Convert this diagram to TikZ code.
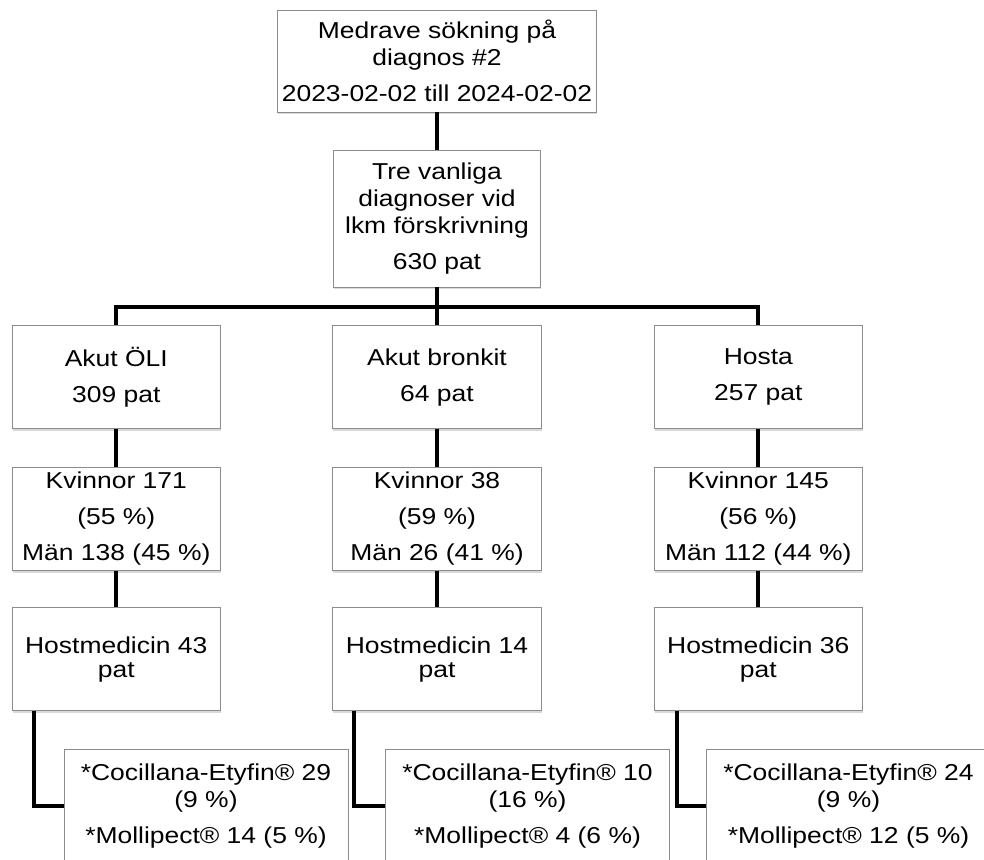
\documentclass[tikz,border=0pt]{standalone}
\usepackage{fontspec}
\setmainfont[FakeStretch=1.15]{Liberation Sans}
\usetikzlibrary{shadows}

\begin{document}
\begin{tikzpicture}[x=1pt,y=-1pt,
        box/.style={draw=black!45,line width=.8pt,fill=white,align=center,inner sep=0pt,
            font=\fontsize{23}{27}\selectfont,
            drop shadow={shadow xshift=.6pt,shadow yshift=-2.2pt,opacity=.3}},
        colbox/.style={box,minimum width=208.7pt,minimum height=103pt},
        drugbox/.style={box,minimum width=284pt,minimum height=114pt},
        link/.style={line width=4pt}]
    \useasboundingbox (0,0) rectangle (984,859);
    \clip (0,0) rectangle (984,859);

    % search and common diagnoses
    \node[box,minimum width=319pt,minimum height=102pt] (search) at (437,61)
        {Medrave sökning på\\diagnos \#2\\[9pt]2023-02-02 till 2024-02-02};
    \node[box,minimum width=206.7pt,minimum height=137pt] (common) at (437,218.5)
        {Tre vanliga\\diagnoser vid\\lkm förskrivning\\[9pt]630 pat};
    \coordinate (bar) at (437,307);

    % diagnosis row
    \node[colbox] (diag1) at (116.3,377.3) {Akut ÖLI\\[9pt]309 pat};
    \node[colbox] (diag2) at (437,377.3) {Akut bronkit\\[9pt]64 pat};
    \node[colbox] (diag3) at (758.3,377.3) {Hosta\\[9pt]257 pat};

    % gender row
    \node[colbox] (sex1) at (116.3,519) {Kvinnor 171\\[9pt](55 \%)\\[9pt]Män 138 (45 \%)};
    \node[colbox] (sex2) at (437,519) {Kvinnor 38\\[9pt](59 \%)\\[9pt]Män 26 (41 \%)};
    \node[colbox] (sex3) at (758.3,519) {Kvinnor 145\\[9pt](56 \%)\\[9pt]Män 112 (44 \%)};

    % cough medicine row
    \node[colbox] (med1) at (116.3,659.3) {Hostmedicin 43\\[-3pt]pat};
    \node[colbox] (med2) at (437,659.3) {Hostmedicin 14\\[-3pt]pat};
    \node[colbox] (med3) at (758.3,659.3) {Hostmedicin 36\\[-3pt]pat};

    % drug row, cut at the bottom
    \node[drugbox] (drug1) at (206,806) {*Cocillana-Etyfin® 29\\(9 \%)\\[9pt]*Mollipect® 14 (5 \%)};
    \node[drugbox] (drug2) at (527.5,806) {*Cocillana-Etyfin® 10\\(16 \%)\\[9pt]*Mollipect® 4 (6 \%)};
    \node[drugbox] (drug3) at (848.5,806) {*Cocillana-Etyfin® 24\\(9 \%)\\[9pt]*Mollipect® 12 (5 \%)};

    % connectors
    \draw[link] (search) -- (common);
    \draw[link] (common) -- (diag2);
    \draw[link] (diag1.north) |- (bar) -| (diag3.north);
    \draw[link] (diag1) -- (sex1) -- (med1);
    \draw[link] (diag2) -- (sex2) -- (med2);
    \draw[link] (diag3) -- (sex3) -- (med3);
    \draw[link] ([xshift=22pt]med1.south west) |- (drug1.west);
    \draw[link] ([xshift=22pt]med2.south west) |- (drug2.west);
    \draw[link] ([xshift=23pt]med3.south west) |- (drug3.west);
\end{tikzpicture}
\end{document}
